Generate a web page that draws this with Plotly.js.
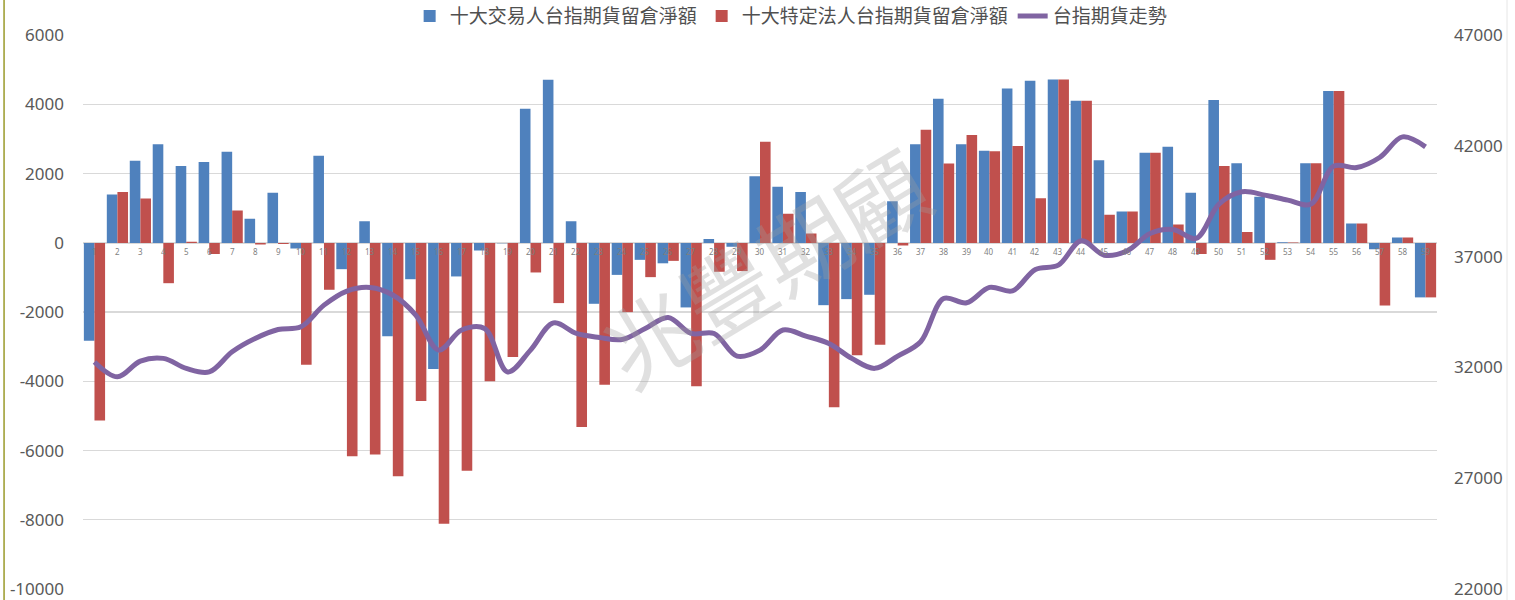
<!DOCTYPE html>
<html>
<head>
<meta charset="utf-8">
<script src="https://cdn.plot.ly/plotly-3.0.1.min.js"></script>
<style>html,body{margin:0;padding:0;background:#fff;}#chart{width:1515px;height:600px;}</style>
</head>
<body>
<div id="chart"></div>
<script>
const categories = Array.from({length: 59}, (_, i) => String(i + 1));
const tradersNet = [-2830, 1400, 2375, 2850, 2220, 2340, 2635, 700, 1445, -165,
  2520, -760, 625, -2700, -1050, -3645, -970, -220, -10, 3875,
  4710, 625, -1760, -925, -490, -590, -1865, 115, -115, 1925,
  1625, 1470, -1800, -1625, -1500, 1200, 2850, 4165, 2850, 2665,
  4460, 4685, 4720, 4105, 2385, 905, 2605, 2780, 1450, 4125,
  2300, 1330, 20, 2300, 4385, 560, -185, 155, -1575];
const institutionsNet = [-5130, 1470, 1280, -1165, 30, -320, 935, -50, -30, -3520,
  -1355, -6165, -6115, -6740, -4570, -8115, -6580, -4000, -3300, -855,
  -1740, -5320, -4100, -2000, -990, -520, -4145, -835, -815, 2925,
  845, 270, -4750, -3250, -2945, -75, 3270, 2290, 3115, 2645,
  2800, 1290, 4720, 4105, 815, 905, 2605, 530, -325, 2220,
  315, -490, 10, 2300, 4385, 560, -1810, 155, -1575];
const futuresTrend = [32250, 31580, 32290, 32410, 31960, 31800, 32710, 33310, 33715, 33840,
  34815, 35450, 35610, 35270, 34365, 32785, 33690, 33760, 31800, 32785,
  34015, 33535, 33355, 33265, 33760, 34260, 33535, 33535, 32515, 32785,
  33690, 33415, 33085, 32410, 31960, 32515, 33160, 35115, 34920, 35615,
  35460, 36425, 36620, 37720, 37070, 37265, 38050, 38230, 37825, 39375,
  39930, 39780, 39555, 39375, 41090, 41025, 41480, 42410, 41960];
const leftTicks = [-10000, -8000, -6000, -4000, -2000, 0, 2000, 4000, 6000];
const leftTickText = ['-10000', '-8000', '-6000', '-4000', '-2000', '0', '2000', '4000', '6000'];
const rightTicks = [22000, 27000, 32000, 37000, 42000, 47000];
const rightTickText = ['22000', '27000', '32000', '37000', '42000', '47000'];
const seriesNames = ['十大交易人台指期貨留倉淨額', '十大特定法人台指期貨留倉淨額', '台指期貨走勢'];
const watermark = '兆豐期顧';

const traces = [
  {type: 'bar', name: seriesNames[0], x: categories, y: tradersNet, yaxis: 'y',
   marker: {color: '#4F81BD', line: {width: 0}}},
  {type: 'bar', name: seriesNames[1], x: categories, y: institutionsNet, yaxis: 'y',
   marker: {color: '#C0504D', line: {width: 0}}},
  {type: 'scatter', mode: 'lines', name: seriesNames[2], x: categories, y: futuresTrend, yaxis: 'y2',
   line: {color: '#8064A2', width: 5, shape: 'spline', smoothing: 1}}
];

// category labels sit on the zero line, drawn above the bars (x given as category index)
const catLabels = categories.map((c, i) => ({
  text: c, x: i, y: 0, xref: 'x', yref: 'y', showarrow: false,
  yanchor: 'top', yshift: -1,
  font: {family: 'Noto Sans, sans-serif', size: 8, color: '#7f7f7f'}
}));

const layout = {
  width: 1515, height: 600,
  margin: {l: 83, r: 78, t: 35, b: 11, pad: 0},
  paper_bgcolor: '#ffffff', plot_bgcolor: '#ffffff',
  font: {family: 'Noto Sans, "Noto Sans CJK TC", sans-serif', color: '#595959'},
  barmode: 'group', bargap: 0.076, bargroupgap: 0,
  showlegend: true,
  legend: {orientation: 'h', xref: 'paper', x: 0.523, xanchor: 'center',
    yref: 'container', y: 0.973, yanchor: 'middle',
    font: {family: '"Noto Sans CJK TC", sans-serif', size: 19, color: '#505050'},
    itemwidth: 30, tracegroupgap: 0, bgcolor: 'rgba(0,0,0,0)'},
  xaxis: {type: 'category', range: [-0.5, 58.5], showgrid: false, showline: false, zeroline: false, ticks: '',
    showticklabels: false, automargin: false},
  yaxis: {range: [-10000, 6000], tickmode: 'array', tickvals: leftTicks, ticktext: leftTickText,
    showgrid: true, gridcolor: '#D9D9D9', gridwidth: 1.3,
    zeroline: true, zerolinecolor: '#D9D9D9', zerolinewidth: 1.3, showline: false, ticks: '',
    tickfont: {size: 17, color: '#595959'}, ticklabelstandoff: 18, automargin: false},
  yaxis2: {range: [22000, 47000], tickmode: 'array', tickvals: rightTicks, ticktext: rightTickText,
    overlaying: 'y', side: 'right',
    showgrid: false, zeroline: false, showline: false, ticks: '',
    tickfont: {size: 17, color: '#595959'}, ticklabelstandoff: 16, automargin: false},
  shapes: [
    {type: 'line', xref: 'paper', yref: 'paper', x0: -0.0583, x1: -0.0583, y0: -0.03, y1: 1.07,
     line: {color: '#9A9A2A', width: 1.5}},
    {type: 'line', xref: 'paper', yref: 'paper', x0: 1.0517, x1: 1.0517, y0: -0.03, y1: 1.07,
     line: {color: '#E6E6E6', width: 1}}
  ],
  annotations: catLabels.concat([
    {text: watermark, xref: 'paper', yref: 'paper', x: 0.503, y: 0.585, showarrow: false,
     textangle: -31, font: {family: '"Noto Sans CJK TC", sans-serif', size: 90, color: 'rgba(160,160,160,0.32)'}}
  ])
};

Plotly.newPlot('chart', traces, layout, {displayModeBar: false, staticPlot: true});
</script>
</body>
</html>
